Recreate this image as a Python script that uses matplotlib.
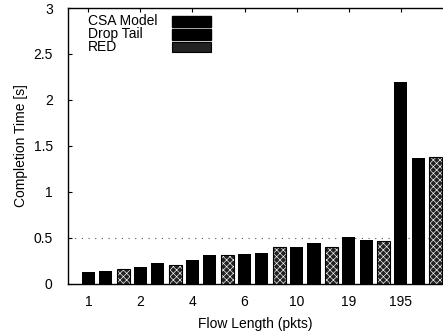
import numpy as np
import matplotlib
matplotlib.use("Agg")
import matplotlib.pyplot as plt
from matplotlib.patches import Rectangle

plt.rcParams['font.family'] = ['Liberation Sans', 'DejaVu Sans']
plt.rcParams['hatch.linewidth'] = 0.45

# Flow lengths (pkts) and completion times [s]
flow_lengths = ['1', '2', '4', '6', '10', '19', '195']
csa_model = [0.127, 0.183, 0.257, 0.327, 0.405, 0.514, 2.20]
drop_tail = [0.137, 0.225, 0.317, 0.338, 0.447, 0.475, 1.37]
red = [0.165, 0.208, 0.310, 0.398, 0.405, 0.465, 1.38]
series_names = ['CSA Model', 'Drop Tail', 'RED']

fig = plt.figure(figsize=(4.43, 3.34), dpi=100)
ax = fig.add_axes([0.1535, 0.150, 0.8465, 0.826])

n = len(flow_lengths)
group = np.arange(n) * 3
w = 0.75

ax.axhline(0.5, color='#555555', linestyle=(0, (1, 5)), linewidth=0.8, zorder=0)

red_style = dict(color='#222222', edgecolor='white', hatch='xxxxx', linewidth=0)

ax.bar(group, csa_model, w, color='black', zorder=2)
ax.bar(group + 1, drop_tail, w, color='black', zorder=2)
ax.bar(group + 2, red, w, zorder=2, **red_style)
# black outline for the RED bars
ax.bar(group + 2, red, w, color='none', edgecolor='black', linewidth=0.8, zorder=3)

ax.set_xlim(-1.17, 20.43)
ax.set_ylim(0, 3)
ax.set_xticks(group)
ax.set_xticklabels(flow_lengths)
ax.set_yticks([0, 0.5, 1, 1.5, 2, 2.5, 3])
ax.set_yticklabels(['0', '0.5', '1', '1.5', '2', '2.5', '3'])
ax.tick_params(direction='in', top=True, right=False, length=3, labelsize=10)
ax.tick_params(axis='y', pad=11)
ax.tick_params(axis='x', pad=8)

for s in ax.spines.values():
    s.set_linewidth(1.0)
ax.spines['right'].set_visible(False)

ax.set_xlabel('Flow Length (pkts)', fontsize=10, labelpad=6)
ax.set_ylabel('Completion Time [s]', fontsize=10, labelpad=4)

# legend: text left-aligned, swatch to the right
for i, name in enumerate(series_names):
    yc = 1 - (13 + i * 13) / 276.0
    ax.text(20 / 375.0, yc, name, transform=ax.transAxes, fontsize=10,
            ha='left', va='center')
    style = red_style if name == 'RED' else dict(color='black')
    ax.add_patch(Rectangle((104 / 375.0, yc - 5.5 / 276.0), 39 / 375.0, 11 / 276.0,
                           transform=ax.transAxes, clip_on=False, **style))
    if name == 'RED':
        ax.add_patch(Rectangle((104 / 375.0, yc - 5.5 / 276.0), 39 / 375.0, 11 / 276.0,
                               transform=ax.transAxes, fill=False,
                               edgecolor='black', linewidth=0.8))

fig.savefig('out.png', dpi=100)
